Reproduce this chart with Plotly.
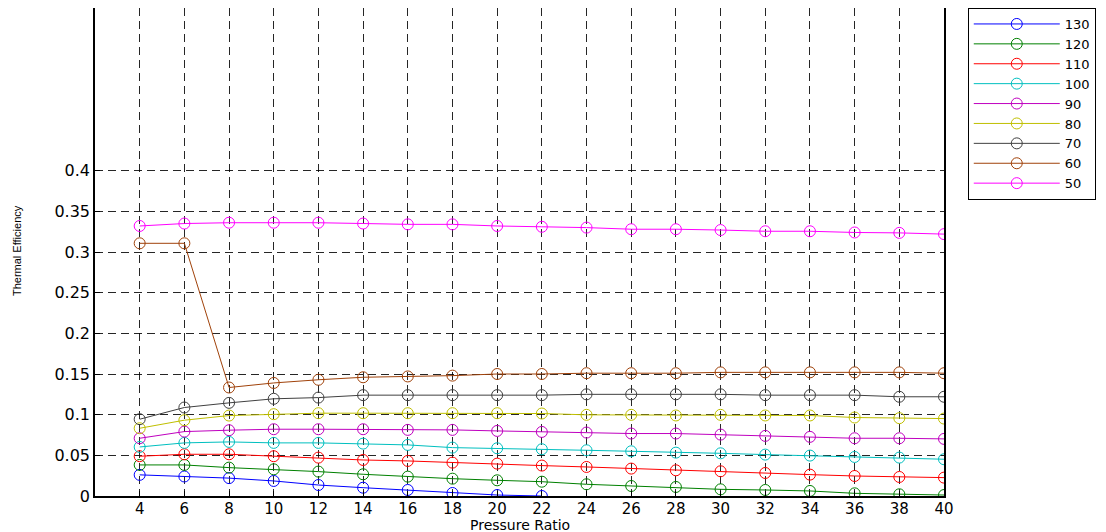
import plotly.graph_objects as go

pressure_ratio = [4, 6, 8, 10, 12, 14, 16, 18, 20, 22, 24, 26, 28, 30, 32, 34, 36, 38, 40]

eff_130 = [0.026, 0.024, 0.022, 0.0185, 0.0135, 0.0102, 0.0074, 0.0037, 0.0012, 0.0]
eff_120 = [0.0382, 0.0382, 0.0349, 0.0328, 0.030, 0.0267, 0.0238, 0.0213, 0.0193, 0.0176,
           0.0144, 0.0123, 0.0111, 0.0082, 0.0074, 0.0062, 0.0033, 0.0021, 0.0012]
eff_110 = [0.0489, 0.0513, 0.0513, 0.0489, 0.0472, 0.0443, 0.0431, 0.041, 0.0398, 0.0374,
           0.0357, 0.0337, 0.0316, 0.0304, 0.0283, 0.0263, 0.0246, 0.0234, 0.0226]
eff_100 = [0.0603, 0.0653, 0.0665, 0.0653, 0.0653, 0.0644, 0.0628, 0.0595, 0.0587, 0.0575,
           0.0562, 0.055, 0.0533, 0.0525, 0.0509, 0.0497, 0.048, 0.0472, 0.0452]
eff_90 = [0.071, 0.0792, 0.0809, 0.0821, 0.0821, 0.0821, 0.0813, 0.0813, 0.080, 0.0788,
          0.078, 0.0768, 0.0768, 0.0755, 0.0739, 0.0727, 0.071, 0.071, 0.0702]
eff_80 = [0.0833, 0.0932, 0.0989, 0.1006, 0.1018, 0.1018, 0.1018, 0.1018, 0.1018, 0.1014,
          0.0998, 0.0998, 0.099, 0.0998, 0.099, 0.099, 0.0965, 0.0957, 0.0952]
eff_70 = [0.0944, 0.1088, 0.1145, 0.1195, 0.121, 0.124, 0.124, 0.124, 0.124, 0.124,
          0.125, 0.125, 0.125, 0.125, 0.124, 0.124, 0.124, 0.122, 0.122]
eff_60 = [0.3107, 0.3107, 0.1334, 0.139, 0.1429, 0.146, 0.147, 0.148, 0.150, 0.150,
          0.151, 0.151, 0.151, 0.152, 0.152, 0.152, 0.152, 0.152, 0.151]
eff_50 = [0.332, 0.335, 0.336, 0.336, 0.336, 0.335, 0.334, 0.334, 0.332, 0.331,
          0.330, 0.328, 0.328, 0.327, 0.3255, 0.3255, 0.324, 0.3235, 0.322]

series_names = ["130", "120", "110", "100", "90", "80", "70", "60", "50"]
series_values = [eff_130, eff_120, eff_110, eff_100, eff_90, eff_80, eff_70, eff_60, eff_50]
series_colors = ["#0000ff", "#008000", "#ff0000", "#00bfbf", "#bf00bf",
                 "#bfbf00", "#404040", "#a0420a", "#ff00ff"]

y_ticks = [0, 0.05, 0.1, 0.15, 0.2, 0.25, 0.3, 0.35, 0.4]
y_ticklabels = ["0", "0.05", "0.1", "0.15", "0.2", "0.25", "0.3", "0.35", "0.4"]

FONT = "DejaVu Sans, Liberation Sans, Arial, sans-serif"
FONT2 = "Liberation Sans, Arial, sans-serif"

fig = go.Figure()
for name, vals, col in zip(series_names, series_values, series_colors):
    fig.add_trace(go.Scatter(
        x=pressure_ratio[:len(vals)], y=vals, name=name, mode="lines+markers",
        line=dict(color=col, width=1),
        marker=dict(symbol="circle-open", size=11, color=col, line=dict(width=1, color=col)),
    ))

# the page body adds an 8px offset; margins compensate for it
fig.update_layout(
    width=1106, height=532,
    margin=dict(l=87, r=170, t=0, b=44, autoexpand=False),
    plot_bgcolor="white", paper_bgcolor="white",
    font=dict(family=FONT, size=14, color="black"),
    legend=dict(
        x=1.028, y=1.0, xanchor="left", yanchor="top",
        bordercolor="black", borderwidth=1, bgcolor="white",
        font=dict(family=FONT, size=13, color="black"),
        tracegroupgap=0, itemwidth=86,
    ),
    annotations=[
        dict(text="Pressure Ratio", xref="paper", yref="paper", x=0.5, y=0,
             xanchor="center", yanchor="middle", yshift=-29, showarrow=False,
             font=dict(family=FONT, size=14, color="black")),
        dict(text="Thermal Efficiency", xref="paper", yref="paper", x=0, y=0.502,
             xanchor="center", yanchor="middle", xshift=-78, textangle=-90,
             showarrow=False, font=dict(family=FONT2, size=11, color="black")),
    ],
)

fig.update_xaxes(
    range=[2, 40], tickvals=pressure_ratio, ticktext=[str(v) for v in pressure_ratio],
    showline=True, linecolor="black", linewidth=1.5, mirror=True,
    ticks="inside", ticklen=5, tickcolor="black",
    showgrid=True, gridcolor="rgba(0,0,0,0.85)", gridwidth=1, griddash="8px,5px",
    zeroline=False, automargin=False, ticklabelstandoff=-2,
    tickfont=dict(family=FONT, size=15),
)
fig.update_yaxes(
    range=[0, 0.6], tickvals=y_ticks, ticktext=y_ticklabels,
    showline=True, linecolor="black", linewidth=1.5, mirror=True,
    ticks="inside", ticklen=5, tickcolor="black",
    showgrid=True, gridcolor="rgba(0,0,0,0.85)", gridwidth=1, griddash="8px,5px",
    zeroline=False, automargin=False,
    tickfont=dict(family=FONT, size=16),
)

fig.write_html("out.html")
